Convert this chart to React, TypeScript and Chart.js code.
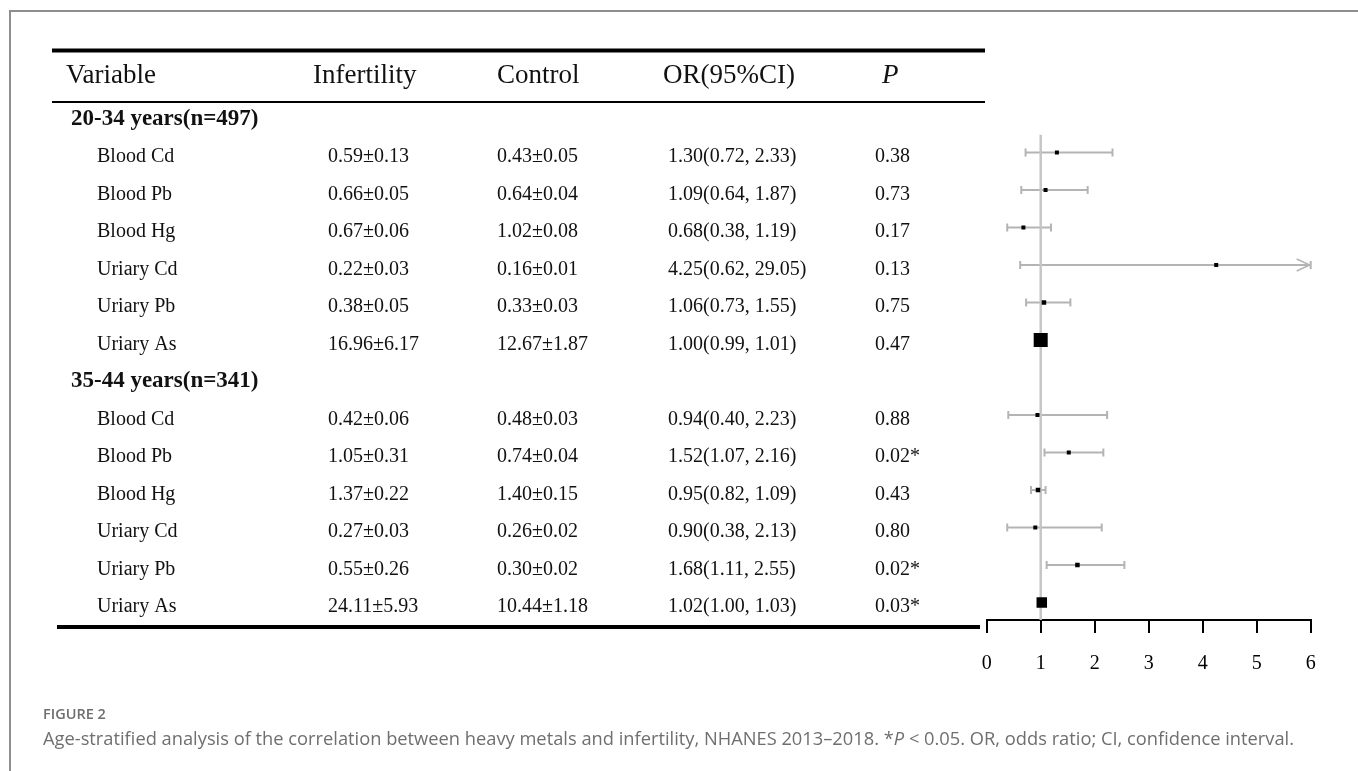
import React, { useEffect, useRef } from "react";
import { Chart, registerables } from "chart.js";

Chart.register(...registerables);

// ---------- data ----------
const headers = ["Variable", "Infertility", "Control", "OR(95%CI)", "P"];
const groupLabels = ["20-34 years(n=497)", "35-44 years(n=341)"];
const variables = ["Blood Cd", "Blood Pb", "Blood Hg", "Uriary Cd", "Uriary Pb", "Uriary As"];

const infertility2034 = ["0.59±0.13", "0.66±0.05", "0.67±0.06", "0.22±0.03", "0.38±0.05", "16.96±6.17"];
const control2034 = ["0.43±0.05", "0.64±0.04", "1.02±0.08", "0.16±0.01", "0.33±0.03", "12.67±1.87"];
const or2034 = [1.3, 1.09, 0.68, 4.25, 1.06, 1.0];
const lower2034 = [0.72, 0.64, 0.38, 0.62, 0.73, 0.99];
const upper2034 = [2.33, 1.87, 1.19, 29.05, 1.55, 1.01];
const p2034 = ["0.38", "0.73", "0.17", "0.13", "0.75", "0.47"];

const infertility3544 = ["0.42±0.06", "1.05±0.31", "1.37±0.22", "0.27±0.03", "0.55±0.26", "24.11±5.93"];
const control3544 = ["0.48±0.03", "0.74±0.04", "1.40±0.15", "0.26±0.02", "0.30±0.02", "10.44±1.18"];
const or3544 = [0.94, 1.52, 0.95, 0.9, 1.68, 1.02];
const lower3544 = [0.4, 1.07, 0.82, 0.38, 1.11, 1.0];
const upper3544 = [2.23, 2.16, 1.09, 2.13, 2.55, 1.03];
const p3544 = ["0.88", "0.02*", "0.43", "0.80", "0.02*", "0.03*"];

const xTicks = [0, 1, 2, 3, 4, 5, 6];
const refLineX = 1;

// ---------- styles ----------
const markerSide = [4, 4, 4, 4, 4.5, 14, 4, 4, 4.5, 4, 4.5, 10.5];
const SERIF = '"Liberation Serif", "Times New Roman", serif';
const CI_COLOR = "#b4b4b4";
const REF_COLOR = "#c6c6c6";
const TEXT_COLOR = "#111";

type Item = {
  row: number;
  label: string;
  inf: string;
  ctrl: string;
  or: number;
  lo: number;
  hi: number;
  p: string;
};

const groupsData = [
  { label: groupLabels[0], inf: infertility2034, ctrl: control2034, or: or2034, lo: lower2034, hi: upper2034, p: p2034 },
  { label: groupLabels[1], inf: infertility3544, ctrl: control3544, or: or3544, lo: lower3544, hi: upper3544, p: p3544 },
];

const groupRows: { row: number; label: string }[] = [];
const items: Item[] = [];
{
  let r = 0;
  groupsData.forEach((g) => {
    groupRows.push({ row: r, label: g.label });
    r++;
    variables.forEach((v, i) => {
      items.push({ row: r, label: v, inf: g.inf[i], ctrl: g.ctrl[i], or: g.or[i], lo: g.lo[i], hi: g.hi[i], p: g.p[i] });
      r++;
    });
  });
}

const fmt = (v: number) => v.toFixed(2);

const forestPlugin = {
  id: "forestTable",
  beforeDatasetsDraw(chart: any) {
    const { ctx } = chart;
    const x = chart.scales.x;
    const y = chart.scales.y;
    ctx.save();
    ctx.strokeStyle = CI_COLOR;
    ctx.lineWidth = 2;
    items.forEach((it) => {
      const py = y.getPixelForValue(it.row);
      const x0 = x.getPixelForValue(Math.max(it.lo, x.min));
      const clipped = it.hi > x.max;
      const x1 = x.getPixelForValue(Math.min(it.hi, x.max));
      ctx.beginPath();
      ctx.moveTo(x0, py);
      ctx.lineTo(x1, py);
      ctx.moveTo(x0, py - 4);
      ctx.lineTo(x0, py + 4);
      ctx.moveTo(x1, py - 4);
      ctx.lineTo(x1, py + 4);
      ctx.stroke();
      if (clipped) {
        ctx.beginPath();
        ctx.lineWidth = 1.5;
        ctx.moveTo(x1 - 14, py - 6);
        ctx.lineTo(x1 - 1, py);
        ctx.lineTo(x1 - 14, py + 6);
        ctx.stroke();
        ctx.lineWidth = 2;
      }
    });
    ctx.restore();
  },
  afterDraw(chart: any) {
    const { ctx } = chart;
    const y = chart.scales.y;
    ctx.save();
    ctx.fillStyle = TEXT_COLOR;
    ctx.strokeStyle = "#000";
    // rules
    ctx.lineWidth = 4;
    ctx.beginPath();
    ctx.moveTo(52, 50.5);
    ctx.lineTo(985, 50.5);
    ctx.stroke();
    ctx.lineWidth = 2;
    ctx.beginPath();
    ctx.moveTo(52, 102);
    ctx.lineTo(985, 102);
    ctx.stroke();
    ctx.lineWidth = 4;
    ctx.beginPath();
    ctx.moveTo(57, 627);
    ctx.lineTo(980, 627);
    ctx.stroke();

    // header
    ctx.textBaseline = "alphabetic";
    ctx.textAlign = "left";
    const headerX = [66, 313, 497, 663, 882];
    headers.forEach((h, i) => {
      ctx.font = (i === 4 ? "italic " : "") + "27px " + SERIF;
      ctx.fillText(h, headerX[i], 83);
    });

    // groups
    ctx.font = "bold 23px " + SERIF;
    groupRows.forEach((g) => {
      ctx.fillText(g.label, 71, y.getPixelForValue(g.row) + 9.7);
    });

    // items
    ctx.font = "20px " + SERIF;
    items.forEach((it) => {
      const by = y.getPixelForValue(it.row) + 9.7;
      ctx.fillText(it.label, 97, by);
      ctx.fillText(it.inf, 328, by);
      ctx.fillText(it.ctrl, 497, by);
      ctx.fillText(`${fmt(it.or)}(${fmt(it.lo)}, ${fmt(it.hi)})`, 668, by);
      ctx.fillText(it.p, 875, by);
    });
    ctx.restore();
  },
};

export default function App() {
  const canvasRef = useRef<HTMLCanvasElement | null>(null);

  useEffect(() => {
    if (!canvasRef.current) return;
    const chart = new Chart(canvasRef.current, {
      type: "scatter",
      data: {
        datasets: [
          {
            label: "OR",
            data: items.map((it) => ({ x: it.or, y: it.row })),
            pointStyle: "rect",
            pointRadius: markerSide.map((s) => s / Math.SQRT2),
            pointHoverRadius: markerSide.map((s) => s / Math.SQRT2),
            backgroundColor: "#000",
            borderWidth: 0,
            pointBorderWidth: 0,
          } as any,
          {
            type: "line",
            label: "ref",
            data: [
              { x: refLineX, y: 0.53 },
              { x: refLineX, y: 13.467 },
            ],
            borderColor: REF_COLOR,
            borderWidth: 2.5,
            pointRadius: 0,
            fill: false,
          } as any,
        ],
      },
      options: {
        animation: false,
        responsive: false,
        devicePixelRatio: 1,
        events: [],
        layout: { padding: { left: 986.7, right: 47.3, top: 40, bottom: 91 } },
        plugins: { legend: { display: false }, tooltip: { enabled: false } },
        scales: {
          x: {
            type: "linear",
            min: 0,
            max: 6,
            afterBuildTicks: (s: any) => {
              s.ticks = xTicks.map((v) => ({ value: v }));
            },
            afterFit: (s: any) => {
              s.height = 60;
            },
            ticks: {
              color: "#000",
              font: { family: SERIF, size: 20 },
              padding: 19,
              maxRotation: 0,
            },
            grid: {
              drawOnChartArea: false,
              drawTicks: true,
              tickLength: 13,
              color: "#000",
              lineWidth: 2,
            },
            border: { display: true, color: "#000", width: 2 },
          },
          y: {
            type: "linear",
            display: false,
            reverse: true,
            min: -2,
            max: 13.467,
          },
        },
      } as any,
      plugins: [forestPlugin],
    });
    return () => chart.destroy();
  }, []);

  return (
    <div style={{ position: "absolute", left: 0, top: 0, width: 1358, height: 771, overflow: "hidden", background: "#fff" }}>
      <div
        style={{
          position: "absolute",
          left: 9,
          top: 10,
          width: 1400,
          height: 800,
          border: "2px solid #8e8e8e",
          boxSizing: "border-box",
        }}
      />
      <canvas ref={canvasRef} width={1358} height={771} style={{ position: "absolute", left: 0, top: 0 }} />
      <div
        style={{
          position: "absolute",
          left: 43,
          top: 704,
          fontFamily: '"Open Sans", sans-serif',
          fontWeight: 600,
          fontSize: 14.5,
          lineHeight: "20px",
          color: "#6e6e6e",
          whiteSpace: "nowrap",
        }}
      >
        FIGURE 2
      </div>
      <div
        style={{
          position: "absolute",
          left: 43,
          top: 728,
          fontFamily: '"Open Sans", sans-serif',
          fontSize: 18.3,
          lineHeight: "20px",
          color: "#6f6f6f",
          whiteSpace: "nowrap",
        }}
      >
        Age-stratified analysis of the correlation between heavy metals and infertility, NHANES 2013–2018. *<i>P</i> &lt; 0.05. OR, odds ratio; CI, confidence interval.
      </div>
    </div>
  );
}
